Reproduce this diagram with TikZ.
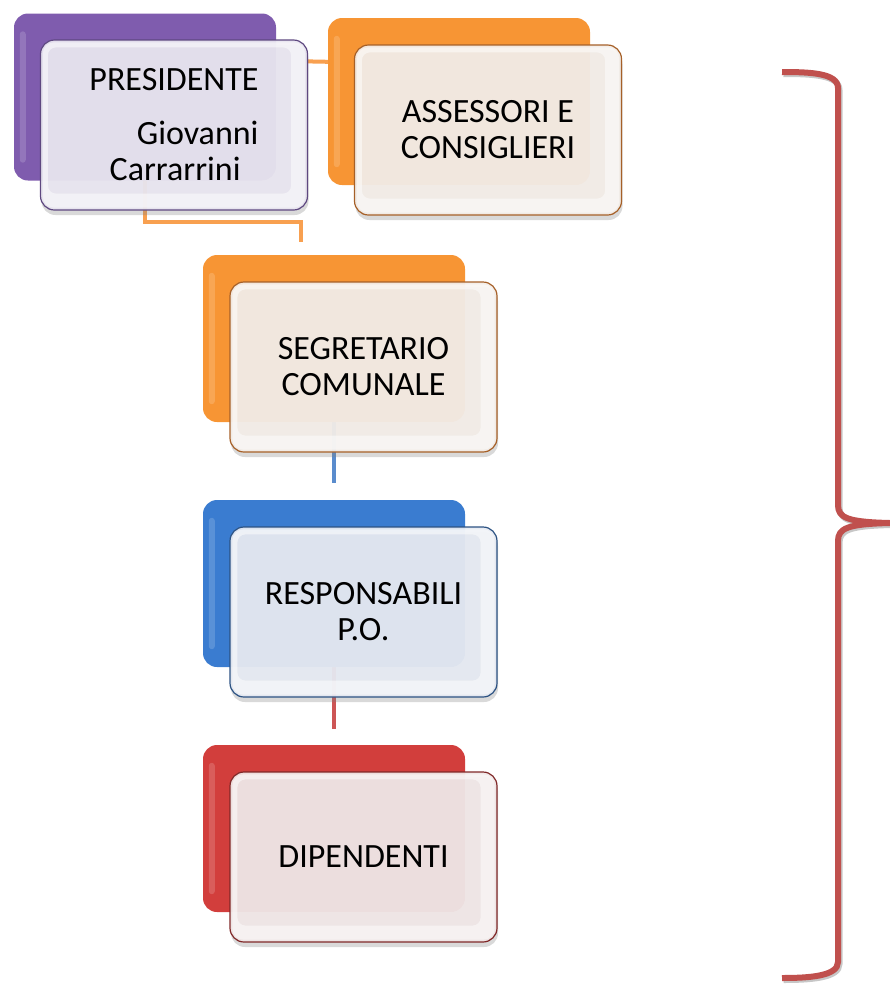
\documentclass[tikz,border=0pt]{standalone}
\usepackage{fontspec}
\setmainfont{Carlito}
\usepackage{tikz}
\usetikzlibrary{calc,positioning,shadows,backgrounds}
\definecolor{presBack}{RGB}{127,92,174}
\definecolor{presLine}{RGB}{94,72,128}
\definecolor{presTint}{RGB}{233,230,240}
\definecolor{orngBack}{RGB}{247,149,52}
\definecolor{orngLine}{RGB}{166,96,40}
\definecolor{orngTint}{RGB}{243,237,232}
\definecolor{blueBack}{RGB}{58,124,208}
\definecolor{blueLine}{RGB}{44,82,130}
\definecolor{blueTint}{RGB}{230,234,242}
\definecolor{redBack}{RGB}{210,62,60}
\definecolor{redLine}{RGB}{128,40,40}
\definecolor{redTint}{RGB}{240,231,231}
\definecolor{linkOrange}{RGB}{248,160,80}
\definecolor{linkBlue}{RGB}{90,140,205}
\definecolor{linkRed}{RGB}{205,85,85}
\definecolor{braceRed}{RGB}{192,80,77}
\tikzset{
backbox/.style={rectangle, rounded corners=14pt, minimum width=262pt, minimum height=167pt, inner sep=0pt}, % coloured card behind
frontbox/.style={rectangle, rounded corners=14pt, minimum width=267pt, minimum height=170pt, inner sep=0pt, line width=1.2pt, align=center, fill opacity=0.94, text opacity=1, font=\fontsize{34}{36}\selectfont, drop shadow={shadow xshift=1pt, shadow yshift=-5pt, opacity=0.3}}, % glass card in front
link/.style={line width=4pt}, % connectors
}
\begin{document}
\begin{tikzpicture}[x=1pt,y=1pt,yscale=-1,xscale=1]
\useasboundingbox (0,0) rectangle (890,989);
%Back Cards
\node[backbox, fill=presBack] (presB) at (145,97) {};
\node[backbox, fill=orngBack] (asseB) at (459,101.5) {};
\node[backbox, fill=orngBack] (segrB) at (334,338.5) {};
\node[backbox, fill=blueBack] (respB) at (334,583.5) {};
\node[backbox, fill=redBack] (dipeB) at (334,828.5) {};
\foreach \n in {presB,asseB,segrB,respB,dipeB}
  \fill[white, opacity=0.16, rounded corners=3pt] ($(\n.north west)+(6,18)$) rectangle ($(\n.south west)+(12,-18)$);
%Front Cards
\node[frontbox, draw=presLine, fill=presTint, align=right] (pres) at (174,125) {PRESIDENTE\\[18pt]Giovanni\\Carrarrini\hspace{18pt}\mbox{}};
\node[frontbox, draw=orngLine, fill=orngTint] (asse) at (488,130) {ASSESSORI E\\CONSIGLIERI};
\node[frontbox, draw=orngLine, fill=orngTint] (segr) at (363.5,367) {SEGRETARIO\\COMUNALE};
\node[frontbox, draw=blueLine, fill=blueTint] (resp) at (363.5,612) {RESPONSABILI\\P.O.};
\node[frontbox, draw=redLine, fill=redTint] (dipe) at (363.5,857) {DIPENDENTI};
\foreach \n in {pres,asse,segr,resp,dipe}
  \fill[white, opacity=0.5, even odd rule, rounded corners=11pt] ($(\n.north west)+(3,3)$) rectangle ($(\n.south east)+(-3,-3)$) [rounded corners=8pt] ($(\n.north west)+(8,8)$) rectangle ($(\n.south east)+(-17,-17)$);
%Straight Lines
\begin{scope}[on background layer]
\draw[link, linkOrange] ($(pres.north east)+(0,22)$) -- ($(asseB.north west)+(0,44)$);
\draw[link, linkOrange] (presB.center) |- ($(segrB.north)+(-33,-33)$) -- ++(0,20);
\draw[link, linkBlue] (segrB.center) -- ($(respB.north)+(0,-17)$);
\draw[link, linkRed] (respB.center) -- ($(dipeB.north)+(0,-16)$);
\end{scope}
%Brace
\draw[braceRed, line width=6pt, preaction={draw=black!22, line width=6pt, transform canvas={shift={(1.5pt,-2pt)}}}] (782,72) .. controls (810,72) and (838,73) .. (838,88) -- (838,505) .. controls (838,518) and (848,522) .. (890,523) .. controls (848,524) and (838,528) .. (838,541) -- (838,962) .. controls (838,976) and (810,978) .. (782,978);
\end{tikzpicture}
\end{document}
